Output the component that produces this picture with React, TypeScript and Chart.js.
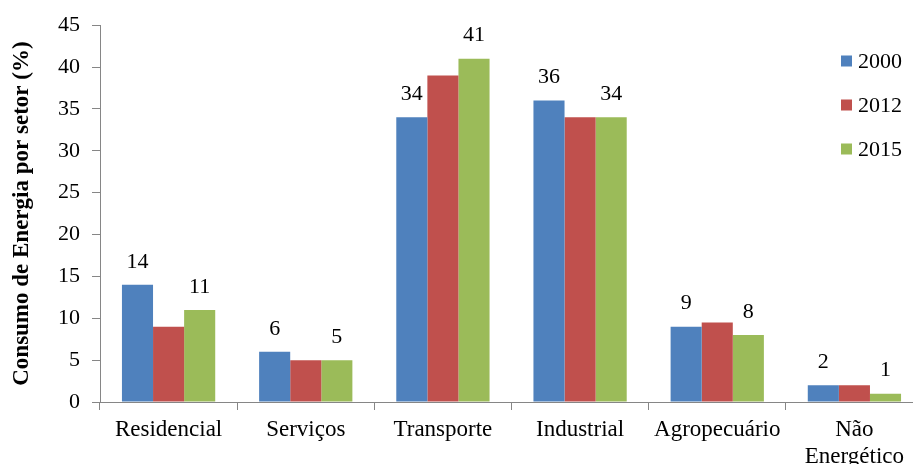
import React, { useEffect, useRef } from 'react';
import { Chart, registerables } from 'chart.js';

Chart.register(...registerables);

const categories: (string | string[])[] = ['Residencial', 'Serviços', 'Transporte', 'Industrial', 'Agropecuário', ['Não', 'Energético']];
const seriesNames = ['2000', '2012', '2015'];
const values2000 = [14, 6, 34, 36, 9, 2];
const values2012 = [9, 5, 39, 34, 9.5, 2];
const values2015 = [11, 5, 41, 34, 8, 1];
const labeledSeries = [0, 2];
const seriesColors = ['#4F81BD', '#C0504D', '#9BBB59'];
const yTitle = 'Consumo de Energia por setor (%)';
const yMin = 0;
const yMax = 45;
const yStep = 5;

const FONT = "'Liberation Serif', 'Times New Roman', serif";

export default function App() {
  const ref = useRef<HTMLCanvasElement | null>(null);

  useEffect(() => {
    if (!ref.current) return;
    const allValues = [values2000, values2012, values2015];

    const dataLabels = {
      id: 'dataLabels',
      afterDatasetsDraw(chart: any) {
        const ctx = chart.ctx;
        ctx.save();
        ctx.font = `22px ${FONT}`;
        ctx.fillStyle = '#000';
        ctx.textAlign = 'center';
        ctx.textBaseline = 'middle';
        labeledSeries.forEach((di) => {
          const meta = chart.getDatasetMeta(di);
          meta.data.forEach((bar: any, i: number) => {
            ctx.fillText(String(allValues[di][i]), bar.x, bar.y - 23);
          });
        });
        ctx.restore();
      },
    };

    const innerLegend = {
      id: 'innerLegend',
      afterDraw(chart: any) {
        const ctx = chart.ctx;
        ctx.save();
        ctx.font = `22px ${FONT}`;
        ctx.textAlign = 'left';
        ctx.textBaseline = 'middle';
        chart.data.datasets.forEach((ds: any, i: number) => {
          const cy = 61 + i * 44;
          ctx.fillStyle = ds.backgroundColor;
          ctx.fillRect(841, cy - 5.5, 11, 11);
          ctx.fillStyle = '#000';
          ctx.fillText(ds.label, 858, cy + 1);
        });
        ctx.restore();
      },
    };

    const chart = new Chart(ref.current, {
      type: 'bar',
      data: {
        labels: categories as any,
        datasets: seriesNames.map((name, i) => ({
          label: name,
          data: allValues[i],
          backgroundColor: seriesColors[i],
          borderWidth: 0,
          categoryPercentage: 0.68,
          barPercentage: 1.0,
        })),
      },
      options: {
        responsive: false,
        animation: false,
        layout: { padding: { top: 24, right: 7, left: 0, bottom: 0 } },
        plugins: {
          legend: { display: false },
          tooltip: { enabled: false },
        },
        scales: {
          x: {
            grid: {
              display: true,
              drawOnChartArea: false,
              drawTicks: true,
              tickLength: 8,
              color: '#868686',
              offset: true,
            },
            border: { display: true, color: '#868686', width: 1 },
            ticks: {
              color: '#000',
              font: { family: FONT, size: 23 },
              padding: 6,
              maxRotation: 0,
              autoSkip: false,
            },
            afterFit(scale: any) {
              scale.height = 62;
            },
          },
          y: {
            min: yMin,
            max: yMax,
            grid: {
              display: true,
              drawOnChartArea: false,
              drawTicks: true,
              tickLength: 8,
              color: '#868686',
            },
            border: { display: true, color: '#868686', width: 1 },
            ticks: {
              stepSize: yStep,
              color: '#000',
              font: { family: FONT, size: 22 },
              padding: 12,
            },
            title: {
              display: true,
              text: yTitle,
              color: '#000',
              font: { family: FONT, size: 23, weight: 'bold' },
              padding: { top: 8, bottom: 0 },
            },
            afterFit(scale: any) {
              scale.width = 100;
            },
          },
        },
      },
      plugins: [dataLabels, innerLegend],
    });

    return () => chart.destroy();
  }, []);

  return (
    <div
      style={{
        position: 'fixed',
        left: 0,
        top: 0,
        width: 913,
        height: 464,
        overflow: 'hidden',
        background: '#fff',
      }}
    >
      <canvas ref={ref} width={930} height={464} style={{ display: 'block' }} />
    </div>
  );
}
